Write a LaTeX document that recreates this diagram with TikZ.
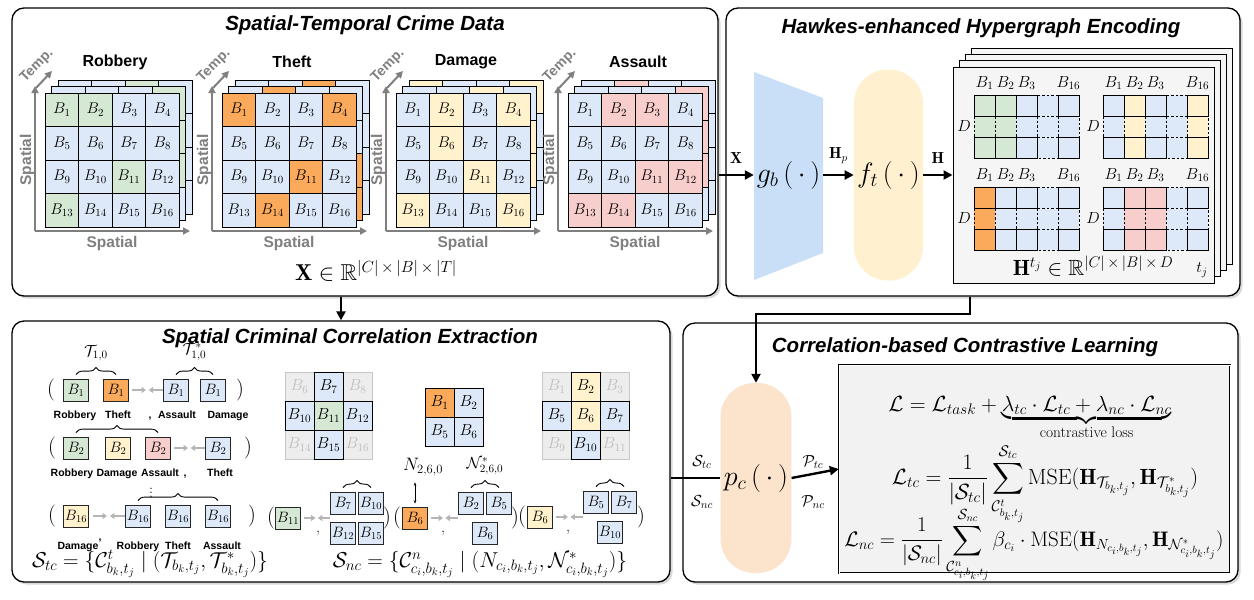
\RequirePackage{fix-cm}
\documentclass[tikz,border=0pt]{standalone}
\usepackage{amsmath,amssymb}
\usepackage{fontspec}
\setsansfont{Liberation Sans}
\usetikzlibrary{arrows.meta,calc,decorations.pathreplacing,shadows,positioning}

\definecolor{cblue}{HTML}{DDE9F8}
\definecolor{cgreen}{HTML}{D5E8D4}
\definecolor{corange}{HTML}{FBAA5C}
\definecolor{cyellow}{HTML}{FFF2CC}
\definecolor{cred}{HTML}{F8CECC}
\definecolor{cgb}{HTML}{C9DFF7}
\definecolor{cft}{HTML}{FFF1CF}
\definecolor{cpc}{HTML}{FCE3CC}
\definecolor{axgray}{HTML}{7F7F7F}
\definecolor{pullgray}{HTML}{B5B5B5}

\tikzset{
  panel/.style={draw, line width=1.3pt, rounded corners=12pt, fill=white,
    drop shadow={shadow xshift=2.5pt, shadow yshift=-2.5pt, opacity=0.3}},
  ptitle/.style={font=\sffamily\bfseries\itshape\fontsize{20.5}{22}\selectfont},
  cell/.style={draw, line width=0.9pt, fill=cblue, minimum size=33.5pt, inner sep=0pt,
    font=\fontsize{15.5}{17}\selectfont},
  backcell/.style={draw, line width=0.9pt, fill=cblue},
  crime/.style={font=\sffamily\bfseries\fontsize{16}{18}\selectfont},
  axis/.style={draw=axgray, line width=2pt, -{Triangle[length=7pt,width=7pt]}},
  axlab/.style={text=axgray, font=\sffamily\bfseries\fontsize{15.5}{17}\selectfont},
  flow/.style={line width=2.4pt, -{Triangle[length=9pt,width=9pt]}},
  lab/.style={font=\fontsize{16}{18}\selectfont},
  big/.style={font=\fontsize{28}{30}\selectfont},
  fml/.style={font=\fontsize{22}{26}\selectfont},
  sfml/.style={font=\fontsize{21.5}{24}\selectfont},
  sbox/.style={draw=black!85, line width=0.8pt, fill=cblue, minimum width=25pt,
    minimum height=22pt, inner sep=0.5pt, font=\fontsize{15}{17}\selectfont},
  slab/.style={font=\sffamily\bfseries\fontsize{10.5}{12}\selectfont, inner sep=0pt, anchor=base},
  paren/.style={font=\fontsize{22}{24}\selectfont, inner sep=0pt},
  brc/.style={decorate, decoration={brace, amplitude=7pt}, line width=0.9pt},
  pull/.style={draw=pullgray, line width=1.8pt, -{Triangle[length=4.5pt,width=6pt]}},
  gcell/.style={draw, line width=0.8pt, fill=cblue, minimum size=29pt, inner sep=0pt,
    font=\fontsize{16}{18}\selectfont},
  faded/.style={gcell, draw=black!22, fill=black!7, text=black!25},
  hlab/.style={font=\fontsize{16}{18}\selectfont, inner sep=0pt},
  layerbox/.style={draw, line width=1pt, fill=black!4},
}

% one hidden layer of a crime grid
\newcommand{\backlayer}[4]{%
  \foreach \i in {1,...,16}{%
    \pgfmathtruncatemacro{\gr}{(\i-1)/4}%
    \pgfmathtruncatemacro{\gc}{mod(\i-1,4)}%
    \draw[backcell] (#1+\gc*33.5,#2+\gr*33.5) rectangle ++(33.5,33.5);
  }
  \foreach \i in {#4}{%
    \pgfmathtruncatemacro{\gr}{(\i-1)/4}%
    \pgfmathtruncatemacro{\gc}{mod(\i-1,4)}%
    \draw[backcell, fill=#3] (#1+\gc*33.5,#2+\gr*33.5) rectangle ++(33.5,33.5);
  }}
% front layer with the region names
\newcommand{\frontlayer}[5]{%
  \foreach \i in {1,...,16}{%
    \pgfmathtruncatemacro{\gr}{(\i-1)/4}%
    \pgfmathtruncatemacro{\gc}{mod(\i-1,4)}%
    \node[cell] (#1-\i) at (#2+16.75+\gc*33.5,#3+16.75+\gr*33.5) {$B_{\i}$};
  }
  \foreach \i in {#5}{%
    \pgfmathtruncatemacro{\gr}{(\i-1)/4}%
    \pgfmathtruncatemacro{\gc}{mod(\i-1,4)}%
    \node[cell, fill=#4] (#1-\i) at (#2+16.75+\gc*33.5,#3+16.75+\gr*33.5) {$B_{\i}$};
  }}
% axes and title of a crime grid
\newcommand{\crimeaxes}[3]{%
  \coordinate (#1-o) at (#2-10,231);
  \draw[axis] (#1-o) -- (#2-10,86);
  \draw[axis] (#1-o) -- (#2+145,231);
  \draw[axis] (#2-9,88) -- ++(16,-17);
  \node[axlab, rotate=90] (#1-ys) at (#2-18,160) {Spatial};
  \node[axlab] (#1-xs) at (#2+67,243) {Spatial};
  \node[axlab, rotate=45, font=\sffamily\bfseries\fontsize{14}{16}\selectfont] (#1-tp) at (#2-8,66) {Temp.};
  \node[crime] (#1-t) at (#2+70,62) {#3};
}
% embedding matrix of one crime type
\newcommand{\hmatrix}[7]{%
  \foreach \gc/\gcol in {0/#4,1/#5,2/#6,3/cblue,4/#7}{%
    \foreach \gr in {0,1,2}{%
      \draw[dash pattern=on 2.5pt off 2pt, line width=0.7pt, fill=\gcol] (#2+\gc*21,#3+\gr*21) rectangle ++(21,21);
    }}
  \foreach \gc in {0,1,2,4}{%
    \foreach \gr in {0,2}{%
      \draw[line width=0.9pt] (#2+\gc*21,#3+\gr*21) rectangle ++(21,21);
    }}
  \node[hlab] (#1-b1) at (#2+10.5,#3-12) {$B_1$};
  \node[hlab] (#1-b2) at (#2+31.5,#3-12) {$B_2$};
  \node[hlab] (#1-b3) at (#2+52.5,#3-12) {$B_3$};
  \node[hlab] (#1-b16) at (#2+94.5,#3-12) {$B_{16}$};
  \node[hlab] (#1-d) at (#2-10,#3+31.5) {$D$};
}
% pair of grey arrows pulling two sides together
\newcommand{\pull}[2]{%
  \draw[pull] ($(#1.east)!0.1!(#1.east -| #2.west)$) -- ($(#1.east)!0.5!(#1.east -| #2.west)$);
  \draw[pull] (#1.east -| #2.west) -- ($(#1.east -| #2.west)!0.42!(#1.east)$);
}

\begin{document}
\begin{tikzpicture}[x=1pt,y=-1pt]
\useasboundingbox (0,0) rectangle (1254,600);

% panels
\node[panel, minimum width=706pt, minimum height=288pt] (p1) at (365,152) {};
\node[panel, minimum width=514pt, minimum height=288pt] (p2) at (983,152) {};
\node[panel, minimum width=658pt, minimum height=261pt] (p3) at (341,451.5) {};
\node[panel, minimum width=555pt, minimum height=259pt] (p4) at (960.5,452.5) {};
\node[ptitle] (p1-t) at (365,25) {Spatial-Temporal Crime Data};
\node[ptitle] (p2-t) at (981,28) {Hawkes-enhanced Hypergraph Encoding};
\node[ptitle] (p3-t) at (350,338) {Spatial Criminal Correlation Extraction};
\node[ptitle] (p4-t) at (965,347) {Correlation-based Contrastive Learning};

% crime tensors
\crimeaxes{rob}{45}{Robbery}
\backlayer{58}{80}{cgreen}{3}
\backlayer{51.5}{86.5}{cgreen}{4,8,12}
\frontlayer{rob}{45}{93}{cgreen}{1,2,11,13}

\crimeaxes{thf}{222}{Theft}
\backlayer{235}{80}{corange}{3}
\backlayer{228.5}{86.5}{corange}{2,12,16}
\frontlayer{thf}{222}{93}{corange}{1,4,11,14}

\crimeaxes{dmg}{396}{Damage}
\backlayer{409}{80}{cyellow}{1,4}
\backlayer{402.5}{86.5}{cyellow}{3,8,12}
\frontlayer{dmg}{396}{93}{cyellow}{2,4,6,11,13,16}

\crimeaxes{ast}{568}{Assault}
\backlayer{581}{80}{cred}{2}
\backlayer{574.5}{86.5}{cred}{4,8,12}
\frontlayer{ast}{568}{93}{cred}{2,3,11,12,13,14}

\node[font=\fontsize{23}{26}\selectfont] (xform) at (376,271) {$\mathbf{X}\in\mathbb{R}^{|C|\,\times\,|B|\,\times\,|T|}$};

% encoder
\fill[cgb] (754,72) -- (823,98) -- (823,253) -- (754,280) -- cycle;
\node[big, minimum width=69pt, inner sep=0pt] (gb) at (788.5,175) {$g_b\,(\,\cdot\,)$};
\node[big, fill=cft, rounded corners=34pt, minimum width=69pt, minimum height=211pt] (ft) at (888.5,175) {$f_t\,(\,\cdot\,)$};
\foreach \k in {3,2,1}
  \draw[layerbox] (953+6*\k,67-6.3*\k) rectangle ++(261,216);
\node[layerbox, minimum width=261pt, minimum height=216pt] (hstack) at (1083.5,175) {};
\hmatrix{ma}{974}{95}{cgreen}{cgreen}{cblue}{cblue}
\hmatrix{mb}{1103}{95}{cblue}{cyellow}{cblue}{cyellow}
\hmatrix{mc}{974}{187}{corange}{cblue}{cblue}{cblue}
\hmatrix{md}{1103}{187}{cblue}{cred}{cred}{cblue}
\node[font=\fontsize{22}{24}\selectfont] (hform) at (1093,266) {$\mathbf{H}^{t_j}\in\mathbb{R}^{|C|\,\times\,|B|\,\times\,D}$};
\node[lab] (tj) at (1202,270) {$t_j$};

\draw[flow] (p1.east |- gb.west) -- (gb.west) node[midway, above=7pt, lab] (xl) {$\mathbf{X}$};
\draw[flow] (gb.east) -- (ft.west) node[midway, above=7pt, lab] (hpl) {$\mathbf{H}_p$};
\draw[flow] (ft.east) -- (hstack.west) node[midway, above=7pt, lab] (hl) {$\mathbf{H}$};

% correlation extraction: temporal pairs
\node[paren] (r1l) at (51,390) {(};
\node[sbox, fill=cgreen] (r1a) at (76,390) {$B_1$};
\node[sbox, fill=corange] (r1b) at (116,390) {$B_1$};
\node[sbox] (r1c) at (176,390) {$B_1$};
\node[sbox] (r1d) at (213,390) {$B_1$};
\node[paren] (r1r) at (240,390) {)};
\pull{r1b}{r1c}
\node[slab] (r1a-l) at (75,418) {Robbery};
\node[slab] (r1b-l) at (118,418) {Theft};
\node[slab] (r1k) at (150,418) {,};
\node[slab] (r1c-l) at (177,418) {Assault};
\node[slab] (r1d-l) at (228,418) {Damage};
\draw[brc] ([yshift=4pt]r1a.north) -- ([yshift=4pt]r1b.north) node[midway, above=10pt, lab] (t10) {$\mathcal{T}_{1,0}$};
\draw[brc] ([yshift=4pt]r1c.north) -- ([yshift=4pt]r1d.north) node[midway, above=10pt, lab] (t10s) {$\mathcal{T}^{*}_{1,0}$};

\node[paren] (r2l) at (52,448) {(};
\node[sbox, fill=cgreen] (r2a) at (76,448) {$B_2$};
\node[sbox, fill=cyellow] (r2b) at (118,448) {$B_2$};
\node[sbox, fill=cred] (r2c) at (158,448) {$B_2$};
\node[sbox] (r2d) at (218,448) {$B_2$};
\node[paren] (r2r) at (248,448) {)};
\pull{r2c}{r2d}
\node[slab] (r2a-l) at (72,476) {Robbery};
\node[slab] (r2b-l) at (117,476) {Damage};
\node[slab] (r2c-l) at (160,476) {Assault};
\node[slab] (r2k) at (185,476) {,};
\node[slab] (r2d-l) at (220,476) {Theft};
\draw[brc] ([yshift=4pt]r2a.north) -- ([yshift=4pt]r2c.north);

\node[lab] (vd) at (151,490) {$\vdots$};

\node[paren] (r3l) at (52,516) {(};
\node[sbox, fill=cyellow] (r3a) at (76,516) {$B_{16}$};
\node[sbox] (r3b) at (138,516) {$B_{16}$};
\node[sbox] (r3c) at (178,516) {$B_{16}$};
\node[sbox] (r3d) at (218,516) {$B_{16}$};
\node[paren] (r3r) at (252,516) {)};
\pull{r3a}{r3b}
\node[slab] (r3a-l) at (78,549) {Damage};
\node[slab] (r3k) at (100,540) {,};
\node[slab] (r3b-l) at (138,549) {Robbery};
\node[slab] (r3c-l) at (178,549) {Theft};
\node[slab] (r3d-l) at (222,549) {Assault};
\draw[brc] ([yshift=4pt]r3b.north) -- ([yshift=4pt]r3d.north);

\node[sfml, anchor=base] (stc) at (150,567) {$\mathcal{S}_{tc}=\{\mathcal{C}^{t}_{b_k,t_j}\mid(\mathcal{T}_{b_k,t_j},\mathcal{T}^{*}_{b_k,t_j})\}$};

% correlation extraction: neighbourhoods
\node[faded] (ga6) at (299.5,386.5) {$B_6$};
\node[faded] (ga8) at (357.5,386.5) {$B_8$};
\node[faded] (ga14) at (299.5,444.5) {$B_{14}$};
\node[faded] (ga16) at (357.5,444.5) {$B_{16}$};
\node[gcell] (ga7) at (328.5,386.5) {$B_7$};
\node[gcell] (ga10) at (299.5,415.5) {$B_{10}$};
\node[gcell, fill=cgreen] (ga11) at (328.5,415.5) {$B_{11}$};
\node[gcell] (ga12) at (357.5,415.5) {$B_{12}$};
\node[gcell] (ga15) at (328.5,444.5) {$B_{15}$};

\node[gcell, fill=corange] (gb1) at (439.5,402.5) {$B_1$};
\node[gcell] (gb2) at (468.5,402.5) {$B_2$};
\node[gcell] (gb5) at (439.5,431.5) {$B_5$};
\node[gcell] (gb6) at (468.5,431.5) {$B_6$};

\node[faded] (gc1) at (556.5,386.5) {$B_1$};
\node[faded] (gc3) at (614.5,386.5) {$B_3$};
\node[faded] (gc9) at (556.5,444.5) {$B_9$};
\node[faded] (gc11) at (614.5,444.5) {$B_{11}$};
\node[gcell, fill=cyellow] (gc2) at (585.5,386.5) {$B_2$};
\node[gcell] (gc5) at (556.5,415.5) {$B_5$};
\node[gcell, fill=cyellow] (gc6) at (585.5,415.5) {$B_6$};
\node[gcell] (gc7) at (614.5,415.5) {$B_7$};
\node[gcell] (gc10) at (585.5,444.5) {$B_{10}$};

\node[paren] (q1l) at (271,518) {(};
\node[sbox, fill=cgreen] (q1a) at (288,518) {$B_{11}$};
\node[sbox] (q1b) at (343,503) {$B_7$};
\node[sbox] (q1c) at (371,503) {$B_{10}$};
\node[sbox] (q1d) at (343,533) {$B_{12}$};
\node[sbox] (q1e) at (371,533) {$B_{15}$};
\node[paren] (q1r) at (387,518) {)};
\pull{q1a}{q1b}
\node[lab, anchor=base] (q1k) at (318,532) {,};
\draw[brc] ([yshift=4pt]q1b.north) -- ([yshift=4pt]q1c.north);

\node[paren] (q2l) at (397,518) {(};
\node[sbox, fill=corange] (q2a) at (415,518) {$B_6$};
\node[sbox] (q2b) at (471,503) {$B_2$};
\node[sbox] (q2c) at (499,503) {$B_5$};
\node[sbox] (q2d) at (485,533) {$B_6$};
\node[paren] (q2r) at (515,518) {)};
\pull{q2a}{q2b}
\node[lab, anchor=base] (q2k) at (443,532) {,};
\draw[brc] ([yshift=4pt]q2b.north) -- ([yshift=4pt]q2c.north) node[midway, above=9pt, lab] (nstar) {$\mathcal{N}^{*}_{2,6,0}$};
\node[lab, font=\fontsize{18}{20}\selectfont] (nlab) at (423,467) {$N_{2,6,0}$};
\draw[{Stealth[length=3.5pt]}-{Stealth[length=3.5pt]}, line width=0.7pt] ([yshift=-3pt]nlab.south -| q2a.north) -- ([yshift=3pt]q2a.north);

\node[paren] (q3l) at (522,517) {(};
\node[sbox, fill=cyellow] (q3a) at (540,517) {$B_6$};
\node[sbox] (q3b) at (596,502) {$B_5$};
\node[sbox] (q3c) at (624,502) {$B_7$};
\node[sbox] (q3d) at (610,532) {$B_{10}$};
\node[paren] (q3r) at (641,517) {)};
\pull{q3a}{q3b}
\node[lab, anchor=base] (q3k) at (568,531) {,};
\draw[brc] ([yshift=4pt]q3b.north) -- ([yshift=4pt]q3c.north);

\node[sfml, anchor=base] (snc) at (480,567) {$\mathcal{S}_{nc}=\{\mathcal{C}^{n}_{c_i,b_k,t_j}\mid(N_{c_i,b_k,t_j},\mathcal{N}^{*}_{c_i,b_k,t_j})\}$};

% contrastive learning
\node[big, fill=cpc, rounded corners=34pt, minimum width=68pt, minimum height=190pt] (pc) at (756,478) {$p_c\,(\,\cdot\,)$};
\node[draw, double, double distance=1pt, fill=black!5, minimum width=391pt, minimum height=208pt] (fb) at (1034.5,469) {};
\draw[line width=2.4pt] (p3.east |- pc.west) -- (pc.west);
\draw[flow] (pc.east) -- (fb.west);
\node[lab] (stc-l) at (702,462) {$\mathcal{S}_{tc}$};
\node[lab] (snc-l) at (702,502) {$\mathcal{S}_{nc}$};
\node[lab] (ptc-l) at (813,462) {$\mathcal{P}_{tc}$};
\node[lab] (pnc-l) at (813,502) {$\mathcal{P}_{nc}$};

\node[fml, anchor=base] (f1) at (1030,411) {$\mathcal{L}=\mathcal{L}_{task}+\underbrace{\lambda_{tc}\cdot\mathcal{L}_{tc}+\lambda_{nc}\cdot\mathcal{L}_{nc}}_{\text{contrastive loss}}$};
\node[fml, anchor=base] (f2) at (1045,484) {$\displaystyle\mathcal{L}_{tc}=\frac{1}{|\mathcal{S}_{tc}|}\sum_{\mathcal{C}^{t}_{b_k,t_j}}^{\mathcal{S}_{tc}}\mathrm{MSE}(\mathbf{H}_{\mathcal{T}_{b_k,t_j}},\mathbf{H}_{\mathcal{T}^{*}_{b_k,t_j}})$};
\node[fml, anchor=base, font=\fontsize{21}{24}\selectfont] (f3) at (1034,546) {$\displaystyle\mathcal{L}_{nc}=\frac{1}{|\mathcal{S}_{nc}|}\sum_{\mathcal{C}^{n}_{c_i,b_k,t_j}}^{\mathcal{S}_{nc}}\beta_{c_i}\cdot\mathrm{MSE}(\mathbf{H}_{N_{c_i,b_k,t_j}},\mathbf{H}_{\mathcal{N}^{*}_{c_i,b_k,t_j}})$};

% links between stages
\coordinate (bend) at (970,314);
\draw[flow] (p1.south -| p3.north) -- (p3.north);
\draw[flow] (p2.south -| bend) -- (bend) -| (pc.north);
\end{tikzpicture}
\end{document}
